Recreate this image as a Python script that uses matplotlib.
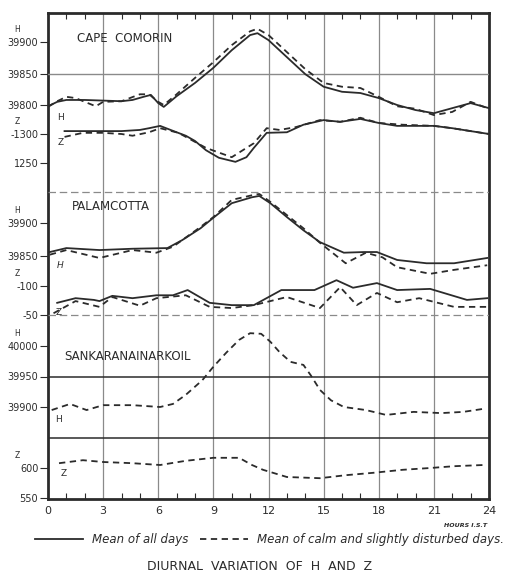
import numpy as np
import matplotlib.pyplot as plt
from matplotlib.lines import Line2D

# ---- datos (horas I.S.T. y valores en gammas) ----
# Cape Comorin, H
cc_h_all_hrs = [0, 0.5, 1, 2, 3, 4, 4.6, 5.2, 5.6, 6.0, 6.3, 7, 8, 9, 10, 11, 11.4, 12, 13, 14,
                15, 16, 17, 18, 19, 20, 21, 22, 23, 24]
cc_h_all = [39798, 39805, 39808, 39808, 39807, 39806, 39808, 39813, 39816, 39803, 39797, 39814,
            39835, 39859, 39887, 39911, 39914, 39903, 39876, 39849, 39829, 39821, 39819, 39811,
            39800, 39792, 39787, 39795, 39803, 39795]
cc_h_calm_hrs = [0, 0.5, 1, 1.5, 2, 2.6, 3, 4, 5, 5.5, 6, 6.3, 7, 8, 9, 10, 11, 11.4, 12, 13, 14,
                 15, 16, 17, 18, 19, 20, 21, 22, 23, 24]
cc_h_calm = [39797, 39806, 39813, 39811, 39805, 39798, 39805, 39806, 39817, 39817, 39805, 39800,
             39817, 39843, 39868, 39895, 39917, 39921, 39911, 39884, 39857, 39835, 39829, 39827,
             39813, 39798, 39794, 39784, 39789, 39805, 39794]

# Cape Comorin, Z
cc_z_all_hrs = [0.9, 2, 3, 4, 5, 5.5, 6.1, 7, 7.5, 8, 8.6, 9.3, 10.2, 10.8, 11.2, 11.9, 13, 13.9,
                15, 15.9, 17, 18, 19, 21, 22, 24]
cc_z_all = [-1305, -1305, -1305, -1305, -1307, -1310, -1314, -1303, -1297, -1288, -1272, -1259,
            -1252, -1260, -1276, -1302, -1303, -1316, -1324, -1321, -1326, -1319, -1314, -1314,
            -1310, -1300]
cc_z_calm_hrs = [0.9, 1.9, 3, 4, 4.6, 5.5, 6.1, 7.1, 8.6, 10, 10.8, 11.2, 11.9, 12.6, 13.5, 14.8,
                 15.9, 17, 18, 19.3, 21, 22, 24]
cc_z_calm = [-1295, -1302, -1302, -1300, -1297, -1303, -1310, -1302, -1276, -1260, -1276, -1284,
             -1310, -1307, -1312, -1324, -1321, -1328, -1319, -1316, -1314, -1310, -1300]

# Palamcotta, H
pal_h_all_hrs = [0.1, 1, 2.8, 4.6, 6.5, 7.3, 8.3, 9, 10, 11.1, 11.5, 12.1, 13, 13.9, 14.8, 16.1,
                 17.2, 17.9, 19, 20.6, 22.1, 23.9]
pal_h_all = [39856, 39862, 39859, 39861, 39862, 39874, 39892, 39908, 39930, 39939, 39941, 39930,
             39909, 39889, 39871, 39855, 39856, 39856, 39844, 39839, 39839, 39847]
pal_h_calm_hrs = [0.1, 1, 2.8, 4.6, 5.9, 6.8, 8.3, 9, 10, 11.1, 11.5, 12.1, 13, 13.9, 14.8, 16.2,
                  17.3, 18.2, 19, 20.8, 22.1, 23.9]
pal_h_calm = [39852, 39859, 39847, 39859, 39855, 39864, 39894, 39909, 39935, 39942, 39944, 39932,
              39912, 39892, 39870, 39839, 39855, 39848, 39833, 39823, 39829, 39836]

# Palamcotta, Z
pal_z_all_hrs = [0.5, 1.5, 2.5, 2.8, 3.5, 4.6, 5.9, 6.8, 7.6, 8.8, 10, 11.2, 12.7, 14.5, 15.7,
                 16.6, 17.9, 19, 20.8, 22.8, 23.9]
pal_z_all = [-71, -79, -76, -74, -83, -79, -84, -84, -93, -71, -67, -67, -93, -93, -110, -97,
             -105, -93, -95, -76, -79]
pal_z_calm_hrs = [0.3, 1.5, 2.8, 3.5, 5, 5.9, 7.5, 8.8, 10, 11.2, 13, 14.8, 15.9, 16.8, 17.9, 19,
                  20.2, 22.1, 23.9]
pal_z_calm = [-53, -74, -64, -81, -66, -79, -84, -64, -62, -67, -81, -62, -98, -67, -88, -72,
              -79, -64, -64]

# Sankaranainarkoil (solo dias tranquilos)
sk_h_calm_hrs = [0.2, 1.2, 2.1, 3, 4.6, 6.1, 6.8, 7.5, 8.4, 9, 9.7, 10.4, 11, 11.6, 12.1, 12.6,
                 13.2, 13.9, 14.3, 14.8, 15.4, 16.1, 17.3, 18.4, 19.9, 21.4, 22.6, 23.7]
sk_h_calm = [39895, 39905, 39895, 39903, 39903, 39900, 39905, 39920, 39944, 39966, 39989, 40010,
             40021, 40020, 40007, 39990, 39974, 39969, 39952, 39928, 39911, 39900, 39895, 39887,
             39892, 39890, 39892, 39897]
sk_z_calm_hrs = [0.6, 1.9, 3, 4.6, 6.1, 7.5, 9, 10.4, 11.1, 11.7, 13, 14.8, 16.2, 17.7, 19.3,
                 20.8, 22.1, 23.7]
sk_z_calm = [608, 613, 610, 608, 605, 612, 617, 617, 605, 597, 585, 583, 588, 592, 597, 600,
             603, 605]

# ---- disposicion (pixeles de la imagen de 508x574) ----
FIG_W, FIG_H = 508, 574
X_LEFT, X_RIGHT = 48, 489
Y_TOP, Y_BOT = 13, 499
RECT = [X_LEFT / FIG_W, 1 - Y_BOT / FIG_H, (X_RIGHT - X_LEFT) / FIG_W, (Y_BOT - Y_TOP) / FIG_H]

INK = '#2b2b2b'
GRID = '#8a8a8a'


def limits(a, b):
    """Limites del eje y a partir de dos marcas (valor, fila en pixeles)."""
    (v1, y1), (v2, y2) = a, b
    slope = (v2 - v1) / (y2 - y1)
    return v1 + (Y_BOT - y1) * slope, v1 + (Y_TOP - y1) * slope


fig = plt.figure(figsize=(FIG_W / 100, FIG_H / 100), dpi=100)

# eje base: marco, horas y rejilla vertical
base = fig.add_axes(RECT)
base.set_xlim(0, 24)
base.set_ylim(0, 1)
base.set_yticks([])
base.set_xticks(range(0, 25, 3))
base.set_xticks(range(0, 25), minor=True)
base.tick_params(axis='x', which='major', direction='in', length=0, labelsize=8,
                 pad=5, colors=INK)
base.tick_params(axis='x', which='minor', direction='in', length=4, top=True, width=0.8,
                 color=INK)
for s in base.spines.values():
    s.set_linewidth(2)
    s.set_color(INK)
for h in range(3, 24, 3):
    base.axvline(h, color=GRID, lw=0.9)
base.text(23.9, -0.05, 'HOURS I.S.T', ha='right', va='top', fontsize=4.5,
          style='italic', fontweight='bold', color=INK)


def panel(anchor_a, anchor_b, ticks, labels, comp):
    ax = fig.add_axes(RECT, facecolor='none', sharex=base)
    ax.set_ylim(*limits(anchor_a, anchor_b))
    for s in ax.spines.values():
        s.set_visible(False)
    ax.tick_params(axis='x', which='both', bottom=False, top=False, labelbottom=False)
    ax.set_yticks(ticks)
    ax.set_yticklabels(labels)
    ax.tick_params(axis='y', direction='out', length=6, width=0.8, labelsize=7,
                   pad=1, colors=INK)
    # letra del componente sobre la primera marca
    ax.annotate(comp, xy=(0, ticks[0]), xycoords=('axes fraction', 'data'),
                xytext=(-22, 6), textcoords='offset points', ha='center', va='bottom',
                fontsize=5.5, color=INK)
    return ax


ax_cc_h = panel((39900, 42), (39800, 105), [39900, 39850, 39800], ['39900', '39850', '39800'], 'H')
ax_cc_z = panel((-1300, 134), (-1250, 163), [-1300, -1250], ['-1300', '1250'], 'Z')
ax_pal_h = panel((39900, 223), (39850, 256), [39900, 39850], ['39900', '39850'], 'H')
ax_pal_z = panel((-100, 286), (-50, 315), [-100, -50], ['-100', '-50'], 'Z')
ax_sk_h = panel((40000, 346), (39900, 407), [40000, 39950, 39900], ['40000', '39950', '39900'], 'H')
ax_sk_z = panel((600, 468), (550, 498), [600, 550], ['600', '550'], 'Z')

# lineas horizontales de referencia
ax_cc_h.axhline(39850, color=GRID, lw=1.0)
ax_cc_z.axhline(-1200, color=GRID, lw=0.9, ls=(0, (6, 3)))
ax_pal_z.axhline(-50, color=GRID, lw=0.9, ls=(0, (6, 3)))
ax_sk_h.axhline(39950, color=INK, lw=1.1)
ax_sk_h.axhline(39850, color=INK, lw=1.1)

solid = dict(color=INK, lw=1.3)
dashed = dict(color=INK, lw=1.3, ls=(0, (3.5, 2.5)))

ax_cc_h.plot(cc_h_all_hrs, cc_h_all, **solid)
ax_cc_h.plot(cc_h_calm_hrs, cc_h_calm, **dashed)
ax_cc_z.plot(cc_z_all_hrs, cc_z_all, **solid)
ax_cc_z.plot(cc_z_calm_hrs, cc_z_calm, **dashed)
ax_pal_h.plot(pal_h_all_hrs, pal_h_all, **solid)
ax_pal_h.plot(pal_h_calm_hrs, pal_h_calm, **dashed)
ax_pal_z.plot(pal_z_all_hrs, pal_z_all, **solid)
ax_pal_z.plot(pal_z_calm_hrs, pal_z_calm, **dashed)
ax_sk_h.plot(sk_h_calm_hrs, sk_h_calm, **dashed)
ax_sk_z.plot(sk_z_calm_hrs, sk_z_calm, **dashed)

# nombres de estaciones y letras de las curvas
ax_cc_h.text(1.6, 39905, 'CAPE  COMORIN', fontsize=8.5, color=INK, va='center')
ax_pal_h.text(1.3, 39925, 'PALAMCOTTA', fontsize=8.5, color=INK, va='center')
ax_sk_h.text(0.9, 39982, 'SANKARANAINARKOIL', fontsize=8.5, color=INK, va='center')
ax_cc_h.text(0.5, 39780, 'H', fontsize=6.5, color=INK, va='center')
ax_cc_z.text(0.5, -1285, 'Z', fontsize=6.5, color=INK, va='center')
ax_pal_h.text(0.5, 39835, 'H', fontsize=6.5, color=INK, va='center', style='italic')
ax_pal_z.text(0.4, -55, 'Z', fontsize=6.5, color=INK, va='center')
ax_sk_h.text(0.4, 39880, 'H', fontsize=6.5, color=INK, va='center')
ax_sk_z.text(0.7, 590, 'Z', fontsize=6.5, color=INK, va='center')

# leyenda y titulo
handles = [Line2D([], [], **solid), Line2D([], [], **dashed)]
fig.legend(handles, ['Mean of all days', 'Mean of calm and slightly disturbed days.'],
           loc='center', bbox_to_anchor=(0.531, 1 - 540 / FIG_H), ncol=2, frameon=False,
           handlelength=4, columnspacing=1.0, handletextpad=0.8,
           prop=dict(size=8.5, style='italic'), labelcolor=INK)
fig.text(0.51, 1 - 566 / FIG_H, 'DIURNAL  VARIATION  OF  H  AND  Z', ha='center', va='center',
         fontsize=9, color=INK)

fig.savefig('out.png', dpi=100)
